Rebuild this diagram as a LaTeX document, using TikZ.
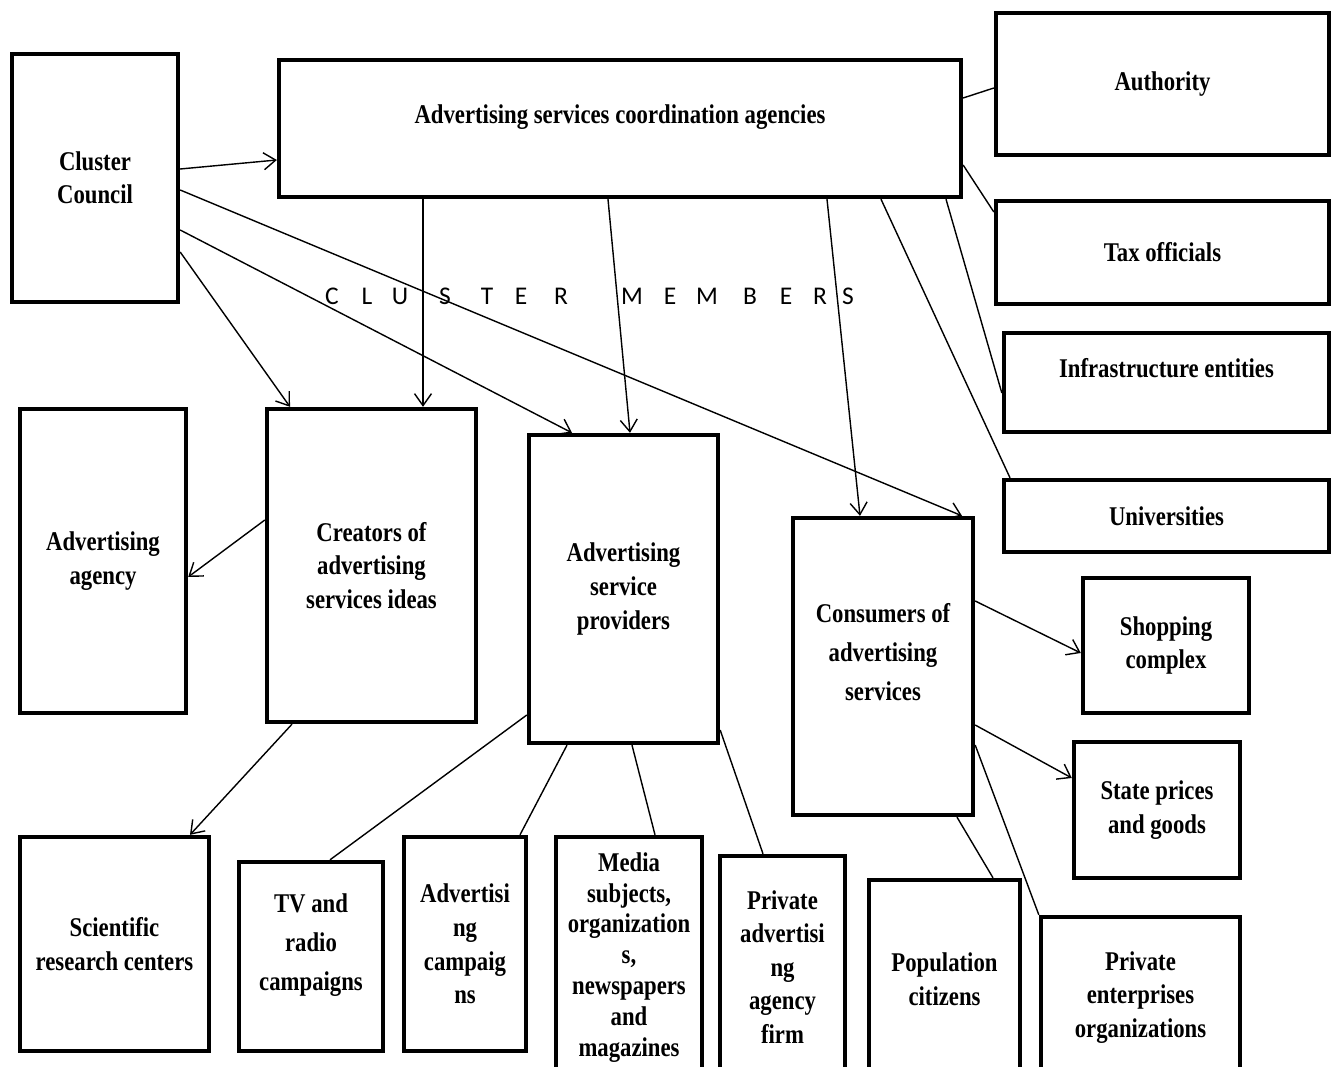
\documentclass[tikz,border=0pt]{standalone}
\usepackage{fontspec}
\setmainfont{Liberation Serif}[FakeStretch=0.84]
\newfontfamily\membersfont{Carlito}
\usepackage{tikz}
\usetikzlibrary{arrows.meta,positioning,calc}

\begin{document}
\begin{tikzpicture}[x=0.02cm, y=-0.02cm,
    box/.style={draw, line width=2.5pt, align=center, inner sep=2pt,
      font=\fontsize{15.4}{19.1}\selectfont\bfseries},
    loose/.style={font=\fontsize{15.4}{22.2}\selectfont\bfseries},
    dense/.style={font=\fontsize{15.4}{17.6}\selectfont\bfseries},
    upone/.style={text height=0.37cm, text depth=0.55cm},
    upthree/.style={text height=1.36cm, text depth=0cm},
    link/.style={line width=0.8pt},
    arr/.style={link, -{Straight Barb[length=2.4mm,width=3.4mm]}},
    letter/.style={font=\membersfont\fontsize{14.5}{17}\selectfont, inner sep=0pt}]

  \useasboundingbox (0,0) rectangle (1336,1067);
  \fill[white] (0,0) rectangle (1336,1067);
  \clip (0,0) rectangle (1336,1067);

  % top row
  \node[box, minimum width=3.32cm, minimum height=4.96cm] (council) at (95,178) {Cluster\\Council};
  \node[box, upone, minimum width=13.64cm, minimum height=2.74cm] (coord) at (620,128.5) {Advertising services coordination agencies};

  % right column
  \node[box, minimum width=6.66cm, minimum height=2.84cm] (authority) at (1162.5,84) {Authority};
  \node[box, minimum width=6.66cm, minimum height=2.06cm] (tax) at (1162.5,252.5) {Tax officials};
  \node[box, upone, minimum width=6.5cm, minimum height=1.98cm] (infra) at (1166.5,382.5) {Infrastructure entities};
  \node[box, minimum width=6.5cm, minimum height=1.44cm] (univ) at (1166.5,516) {Universities};

  % cluster members
  \node[box, minimum width=3.32cm, minimum height=6.08cm] (agency) at (103,561) {Advertising\\agency};
  \node[box, minimum width=4.18cm, minimum height=6.26cm] (creators) at (371.5,565.5) {Creators of\\advertising\\services ideas};
  \node[box, minimum width=3.78cm, minimum height=6.16cm] (providers) at (623.5,589) {Advertising\\service\\providers};
  \node[box, loose, upthree, minimum width=3.6cm, minimum height=5.94cm] (consumers) at (883,666.5) {Consumers of\\advertising\\services};
  \node[box, minimum width=3.32cm, minimum height=2.7cm] (shopping) at (1166,645.5) {Shopping\\complex};
  \node[box, minimum width=3.32cm, minimum height=2.72cm] (state) at (1157,810) {State prices\\and goods};

  % bottom row
  \node[box, minimum width=3.78cm, minimum height=4.28cm] (science) at (114.5,944) {Scientific\\research centers};
  \node[box, loose, upthree, minimum width=2.88cm, minimum height=3.78cm] (tvradio) at (311,956.5) {TV and\\radio\\campaigns};
  \node[box, minimum width=2.44cm, minimum height=4.28cm] (campaigns) at (465,944) {Advertisi\\ng\\campaig\\ns};
  \node[box, dense, minimum width=2.92cm, minimum height=4.82cm] (media) at (629,957.5) {Media\\subjects,\\organization\\s,\\newspapers\\and\\magazines};
  \node[box, minimum width=2.5cm, minimum height=4.44cm] (firm) at (782.5,967) {Private\\advertisi\\ng\\agency\\firm};
  \node[box, minimum width=3.02cm, minimum height=3.96cm] (population) at (944.5,979) {Population\\citizens};
  \node[box, minimum width=3.98cm, minimum height=3.22cm] (enterprises) at (1140.5,997.5) {Private\\enterprises\\organizations};

  % spaced caption
  \foreach \ch/\px [count=\i] in {C/332, L/367, U/400, S/445, T/487, E/521, R/561,
      M/632, E/670, M/707, B/750, E/786, R/820, S/848}
    \node[letter] (member\i) at (\px,296) {\ch};

  % arrows from the council
  \draw[arr] (council.east |- 0,169) -- (coord.west |- 0,160);
  \draw[arr] (council.east |- 0,190) -- (consumers.north -| 962,0);
  \draw[arr] (council.east |- 0,230) -- (providers.north -| 572,0);
  \draw[arr] (council.east |- 0,252) -- (creators.north -| 290,0);

  % arrows from the coordination agencies
  \draw[arr] (coord.south -| 423,0) -- (creators.north -| 423,0);
  \draw[arr] (coord.south -| 608,0) -- (providers.north -| 630,0);
  \draw[arr] (coord.south -| 827,0) -- (consumers.north -| 860,0);
  \draw[link] (coord.east |- 0,98) -- (authority.west |- 0,88);
  \draw[link] (coord.east |- 0,165) -- (tax.west |- 0,212);
  \draw[link] (coord.south -| 946,0) -- (infra.west |- 0,393);
  \draw[link] (coord.south -| 881,0) -- (univ.north -| 1010,0);

  % members
  \draw[arr] (creators.west |- 0,520) -- (agency.east |- 0,577);
  \draw[arr] (creators.south -| 292,0) -- (science.north -| 190,0);
  \draw[link] (providers.west |- 0,715) -- (tvradio.north -| 330,0);
  \draw[link] (providers.south -| 567,0) -- (campaigns.north -| 520,0);
  \draw[link] (providers.south -| 632,0) -- (media.north -| 655,0);
  \draw[link] (providers.east |- 0,730) -- (firm.north -| 763,0);
  \draw[arr] (consumers.east |- 0,601) -- (shopping.west |- 0,653);
  \draw[arr] (consumers.east |- 0,725) -- (state.west |- 0,778);
  \draw[link] (consumers.south -| 957,0) -- (population.north -| 993,0);
  \draw[link] (consumers.east |- 0,745) -- (enterprises.north west);
\end{tikzpicture}
\end{document}
